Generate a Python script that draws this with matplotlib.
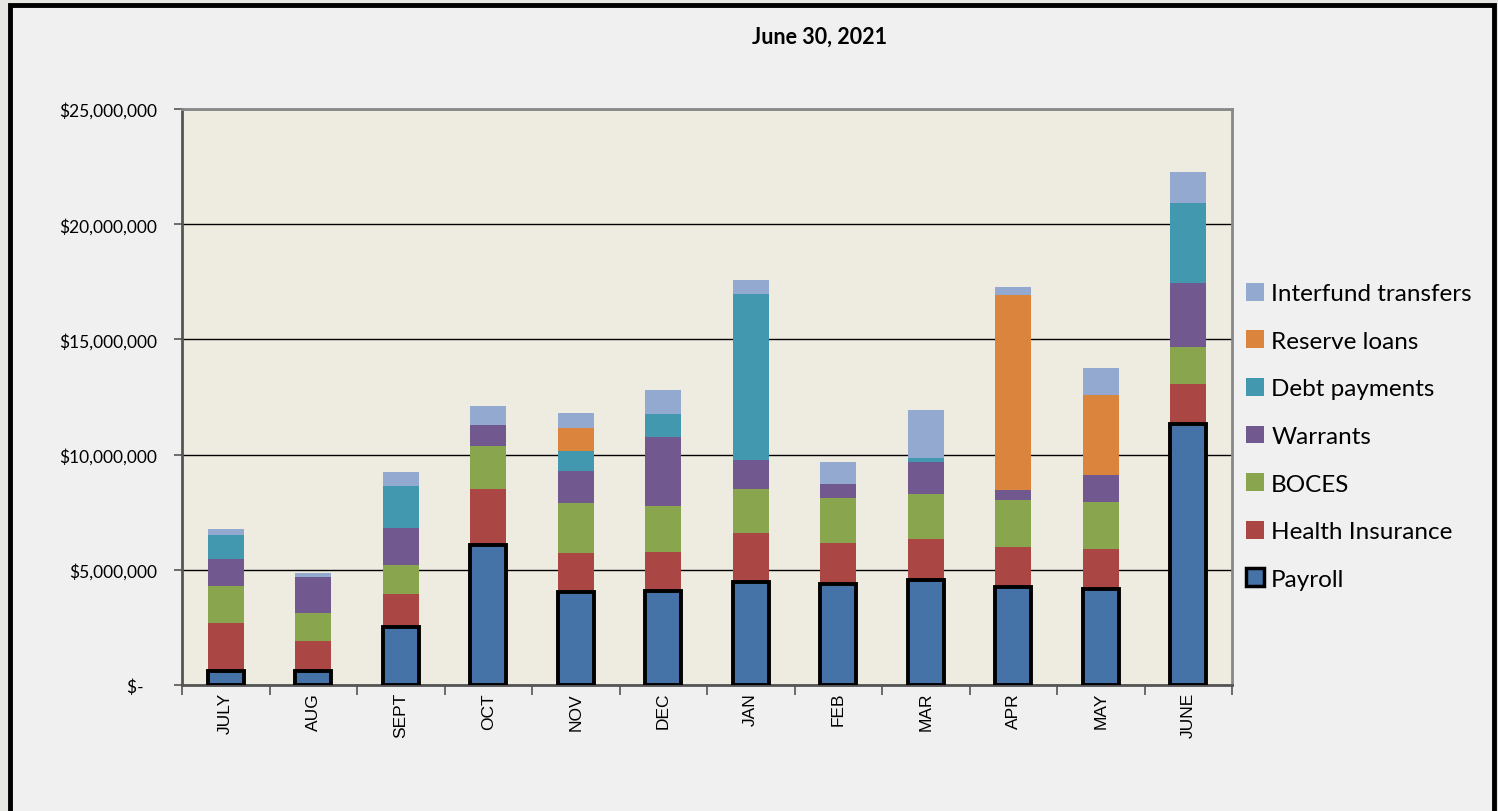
import numpy as np
import matplotlib
matplotlib.use('Agg')
import matplotlib.pyplot as plt
from matplotlib.patches import Rectangle, Patch
from matplotlib.ticker import FuncFormatter, MultipleLocator

# months on the x axis
months = ['JULY', 'AUG', 'SEPT', 'OCT', 'NOV', 'DEC',
          'JAN', 'FEB', 'MAR', 'APR', 'MAY', 'JUNE']

# monthly amounts, in millions of dollars
payroll = [0.61, 0.62, 2.50, 6.09, 4.05, 4.09, 4.46, 4.38, 4.56, 4.25, 4.17, 11.33]
health_insurance = [2.08, 1.29, 1.45, 2.42, 1.68, 1.68, 2.14, 1.78, 1.78, 1.74, 1.73, 1.73]
boces = [1.61, 1.22, 1.26, 1.86, 2.17, 2.00, 1.91, 1.96, 1.95, 2.04, 2.04, 1.61]
warrants = [1.17, 1.56, 1.60, 0.91, 1.39, 2.99, 1.26, 0.60, 1.39, 0.43, 1.17, 2.78]
debt_payments = [1.04, 0.00, 1.83, 0.00, 0.87, 1.00, 7.20, 0.00, 0.17, 0.00, 0.00, 3.47]
reserve_loans = [0.00, 0.00, 0.00, 0.00, 0.99, 0.00, 0.00, 0.00, 0.00, 8.47, 3.48, 0.00]
interfund_transfers = [0.26, 0.17, 0.60, 0.83, 0.66, 1.04, 0.61, 0.96, 2.09, 0.34, 1.17, 1.35]

series_names = ['Payroll', 'Health Insurance', 'BOCES', 'Warrants',
                'Debt payments', 'Reserve loans', 'Interfund transfers']
series_vals = [payroll, health_insurance, boces, warrants,
               debt_payments, reserve_loans, interfund_transfers]
colors = ['#4572A7', '#AA4643', '#89A54E', '#71588F',
          '#4198AF', '#DB843D', '#93A9CF']

W, H = 1498, 812
fig = plt.figure(figsize=(W / 100, H / 100), dpi=100, facecolor='#E6E6E2')

# outer framed panel (behind the axes)
fig.patches.append(Rectangle((10 / W, -0.01), 1484 / W, 1.01 - 6 / H,
                             transform=fig.transFigure, facecolor='#F0F0F0',
                             edgecolor='black', linewidth=3.5, zorder=-5))

ax = fig.add_axes([182 / W, (H - 686) / H, 1050 / W, 576 / H])
ax.set_facecolor('#EEECE1')

x = np.arange(len(months))
bottom = np.zeros(len(months))
for name, vals, col in zip(series_names, series_vals, colors):
    vals = np.array(vals) * 1e6
    if name == 'Payroll':
        ax.bar(x, vals, width=0.41, bottom=bottom, color=col,
               edgecolor='black', linewidth=2.8, zorder=3)
    else:
        ax.bar(x, vals, width=0.41, bottom=bottom, color=col,
               linewidth=0, zorder=2)
    bottom += vals

ax.set_xlim(-0.5, len(months) - 0.5)
ax.set_ylim(0, 25e6)
ax.yaxis.set_major_locator(MultipleLocator(5e6))
ax.grid(axis='y', color='black', linewidth=1.0, zorder=1)
ax.set_axisbelow(True)


def money(v, pos):
    if v == 0:
        return '$-   '
    return '${:,.0f}'.format(v)


ax.yaxis.set_major_formatter(FuncFormatter(money))
ax.tick_params(axis='y', labelsize=12.5, length=6, width=1.2, color='#555555', pad=12)
for lab in ax.get_yticklabels():
    lab.set_family('Lato')

# month labels at centres, ticks at boundaries
ax.set_xticks(x)
ax.set_xticklabels(months, rotation=90, fontsize=12.5, family='Liberation Sans')
ax.tick_params(axis='x', length=0, pad=5)
ax.set_xticks(np.arange(-0.5, len(months)), minor=True)
ax.tick_params(axis='x', which='minor', length=7, width=1.2, color='#555555')

for s in ax.spines.values():
    s.set_color('#888888')
    s.set_linewidth(2.0)
ax.spines['left'].set_color('#555555')
ax.spines['bottom'].set_color('#555555')

fig.text(820 / W, 1 - 37 / H, 'June 30, 2021', ha='center', va='center',
         fontsize=15.5, fontweight='bold', family='Lato')

# legend, top entry first like the original
handles = []
for name, col in zip(series_names, colors):
    if name == 'Payroll':
        handles.append(Patch(facecolor=col, edgecolor='black', linewidth=2.5, label=name))
    else:
        handles.append(Patch(facecolor=col, edgecolor='none', label=name))
leg = fig.legend(handles[::-1], [h.get_label() for h in handles[::-1]],
                 loc='upper left', bbox_to_anchor=(1236 / W, 1 - 274 / H),
                 frameon=False, prop={'family': 'Lato', 'size': 17.5},
                 handlelength=0.75, handleheight=0.75, handletextpad=0.3,
                 labelspacing=1.08, borderaxespad=0)

fig.savefig('out.png', dpi=100, facecolor=fig.get_facecolor())
